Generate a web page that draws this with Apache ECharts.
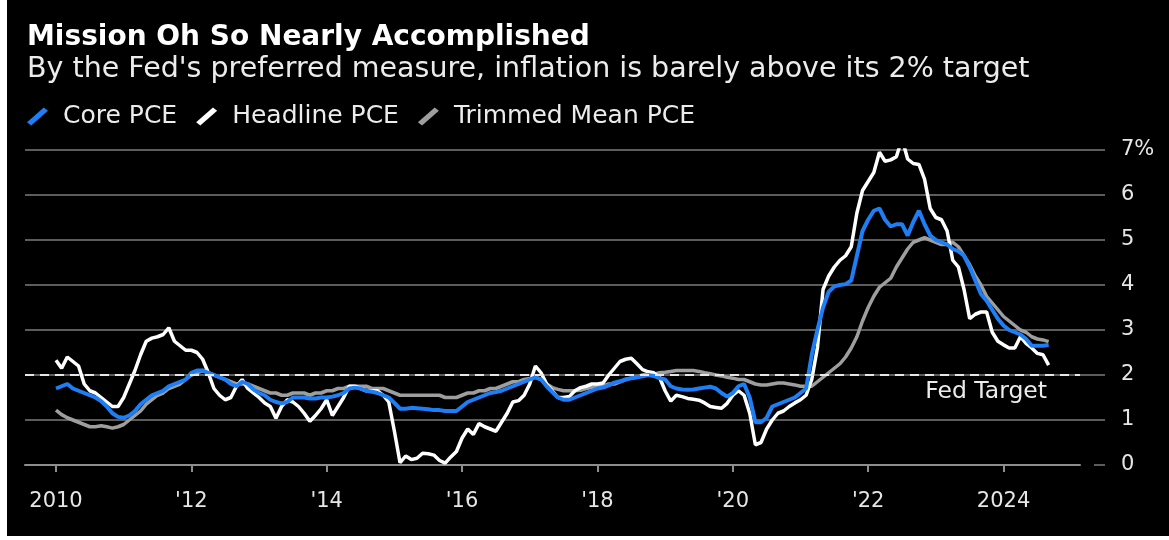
<!DOCTYPE html>
<html>
<head>
<meta charset="utf-8">
<script src="https://cdn.jsdelivr.net/npm/echarts@6/dist/echarts.min.js"></script>
<style>
  html, body { margin: 0; padding: 0; background: #fff; }
  #chart { position: absolute; left: 7px; top: 0; width: 1162px; height: 536px; background: #000; }
</style>
</head>
<body>
<div id="chart"></div>
<script>
// Monthly year-over-year changes, first reading Dec 2009, last Aug 2024.
const FIRST_MONTH = { year: 2009, month: 12 };

const corePce = [
  1.70,
  1.75, 1.80, 1.70, 1.65, 1.60, 1.55, 1.50, 1.42, 1.30, 1.15, 1.07, 1.05,   // 2010
  1.10, 1.20, 1.35, 1.45, 1.55, 1.60, 1.65, 1.75, 1.80, 1.85, 1.90, 2.05,   // 2011
  2.10, 2.10, 2.05, 2.00, 1.95, 1.90, 1.80, 1.75, 1.85, 1.80, 1.68, 1.60,   // 2012
  1.55, 1.45, 1.40, 1.37, 1.40, 1.50, 1.50, 1.50, 1.48, 1.48, 1.50, 1.50,   // 2013
  1.52, 1.55, 1.60, 1.70, 1.72, 1.70, 1.65, 1.63, 1.60, 1.55, 1.50, 1.38,   // 2014
  1.25, 1.25, 1.27, 1.26, 1.25, 1.24, 1.22, 1.22, 1.20, 1.20, 1.20, 1.30,   // 2015
  1.40, 1.45, 1.50, 1.55, 1.60, 1.62, 1.65, 1.70, 1.75, 1.80, 1.85, 1.90,   // 2016
  1.95, 1.90, 1.75, 1.62, 1.50, 1.45, 1.45, 1.50, 1.55, 1.60, 1.65, 1.70,   // 2017
  1.72, 1.77, 1.83, 1.86, 1.90, 1.93, 1.95, 1.97, 2.00, 1.98, 1.93, 1.90,   // 2018
  1.75, 1.70, 1.68, 1.67, 1.68, 1.70, 1.72, 1.74, 1.70, 1.60, 1.52, 1.60,   // 2019
  1.75, 1.80, 1.50, 0.95, 0.95, 1.05, 1.30, 1.35, 1.40, 1.45, 1.50, 1.60,   // 2020
  1.70, 2.45, 3.00, 3.50, 3.85, 3.97, 4.00, 4.02, 4.10, 4.65, 5.20, 5.45,   // 2021
  5.65, 5.70, 5.45, 5.30, 5.35, 5.35, 5.10, 5.40, 5.65, 5.35, 5.10, 5.00,   // 2022
  4.95, 4.90, 4.80, 4.75, 4.65, 4.40, 4.10, 3.80, 3.65, 3.45, 3.25, 3.10,   // 2023
  3.00, 2.95, 2.90, 2.80, 2.65, 2.65, 2.65, 2.67                            // 2024
];

const headlinePce = [
  2.33,
  2.15, 2.40, 2.30, 2.20, 1.80, 1.65, 1.60, 1.50, 1.40, 1.30, 1.30, 1.50,   // 2010
  1.80, 2.10, 2.45, 2.75, 2.82, 2.85, 2.90, 3.05, 2.75, 2.65, 2.55, 2.55,   // 2011
  2.50, 2.35, 2.05, 1.70, 1.55, 1.45, 1.50, 1.75, 1.90, 1.70, 1.60, 1.50,   // 2012
  1.38, 1.30, 1.04, 1.30, 1.45, 1.40, 1.30, 1.15, 0.97, 1.10, 1.25, 1.45,   // 2013
  1.10, 1.30, 1.50, 1.75, 1.75, 1.70, 1.65, 1.65, 1.65, 1.55, 1.40, 0.75,   // 2014
  0.05, 0.20, 0.12, 0.15, 0.26, 0.25, 0.22, 0.10, 0.04, 0.18, 0.30, 0.60,   // 2015
  0.80, 0.68, 0.92, 0.85, 0.80, 0.75, 0.95, 1.15, 1.40, 1.43, 1.55, 1.80,   // 2016
  2.20, 2.05, 1.80, 1.65, 1.50, 1.50, 1.52, 1.65, 1.72, 1.75, 1.80, 1.80,   // 2017
  1.82, 2.00, 2.15, 2.30, 2.35, 2.37, 2.25, 2.12, 2.07, 2.05, 1.95, 1.65,   // 2018
  1.42, 1.55, 1.52, 1.48, 1.46, 1.44, 1.38, 1.30, 1.28, 1.26, 1.37, 1.55,   // 2019
  1.65, 1.55, 1.15, 0.45, 0.50, 0.80, 1.00, 1.15, 1.20, 1.30, 1.38, 1.45,   // 2020
  1.55, 1.90, 2.60, 3.90, 4.20, 4.40, 4.55, 4.65, 4.85, 5.60, 6.10, 6.30,   // 2021
  6.50, 6.95, 6.75, 6.78, 6.85, 7.25, 6.80, 6.70, 6.68, 6.35, 5.70, 5.50,   // 2022
  5.45, 5.20, 4.55, 4.40, 3.90, 3.25, 3.35, 3.40, 3.40, 2.95, 2.75, 2.67,   // 2023
  2.60, 2.60, 2.85, 2.70, 2.60, 2.48, 2.45, 2.22                            // 2024
];

const trimmedMeanPce = [
  1.22,
  1.12, 1.05, 1.00, 0.95, 0.90, 0.85, 0.85, 0.87, 0.85, 0.82, 0.85, 0.90,   // 2010
  1.00, 1.10, 1.20, 1.35, 1.45, 1.55, 1.60, 1.70, 1.75, 1.80, 1.90, 2.00,   // 2011
  2.05, 2.10, 2.05, 2.00, 1.95, 1.90, 1.85, 1.80, 1.80, 1.80, 1.75, 1.70,   // 2012
  1.65, 1.60, 1.60, 1.55, 1.55, 1.60, 1.60, 1.60, 1.55, 1.60, 1.60, 1.65,   // 2013
  1.65, 1.70, 1.70, 1.75, 1.75, 1.75, 1.75, 1.70, 1.70, 1.70, 1.65, 1.60,   // 2014
  1.55, 1.55, 1.55, 1.55, 1.55, 1.55, 1.55, 1.55, 1.50, 1.50, 1.50, 1.55,   // 2015
  1.60, 1.60, 1.65, 1.65, 1.70, 1.70, 1.75, 1.80, 1.85, 1.85, 1.90, 1.92,   // 2016
  1.95, 1.90, 1.80, 1.72, 1.68, 1.65, 1.65, 1.65, 1.66, 1.70, 1.72, 1.75,   // 2017
  1.75, 1.80, 1.80, 1.85, 1.90, 1.93, 1.95, 2.00, 2.02, 2.02, 2.05, 2.06,   // 2018
  2.08, 2.10, 2.10, 2.10, 2.10, 2.08, 2.05, 2.03, 2.00, 1.98, 1.95, 1.93,   // 2019
  1.90, 1.90, 1.85, 1.80, 1.78, 1.78, 1.80, 1.82, 1.82, 1.80, 1.78, 1.75,   // 2020
  1.75, 1.75, 1.85, 1.95, 2.05, 2.15, 2.25, 2.40, 2.60, 2.85, 3.20, 3.50,   // 2021
  3.75, 3.95, 4.05, 4.15, 4.40, 4.60, 4.80, 4.95, 5.00, 5.05, 5.00, 4.95,   // 2022
  4.90, 4.90, 4.95, 4.85, 4.65, 4.45, 4.20, 4.00, 3.75, 3.60, 3.45, 3.30,   // 2023
  3.20, 3.10, 3.00, 2.95, 2.85, 2.80, 2.78, 2.74                            // 2024
];

const tickYears = [2010, 2012, 2014, 2016, 2018, 2020, 2022, 2024];
const tickLabels = ['2010', "'12", "'14", "'16", "'18", "'20", "'22", '2024'];
const yTickLabels = ['0', '1', '2', '3', '4', '5', '6', '7%'];
const FED_TARGET = 2;

const FONT = '"DejaVu Sans", "Liberation Sans", sans-serif';

// Each reading sits at the end of its month on a decimal-year scale.
function toPoints(values) {
  return values.map((v, i) => [FIRST_MONTH.year + (FIRST_MONTH.month + i) / 12, v]);
}

const chart = echarts.init(document.getElementById('chart'), null, { renderer: 'canvas' });

chart.setOption({
  backgroundColor: '#000',
  animation: false,
  title: [
    {
      text: 'Mission Oh So Nearly Accomplished',
      left: 20, top: 24, padding: 0,
      textStyle: { color: '#ffffff', fontFamily: FONT, fontWeight: 'bold', fontSize: 28 }
    },
    {
      text: "By the Fed's preferred measure, inflation is barely above its 2% target",
      left: 20, top: 55, padding: 0,
      textStyle: { color: '#ececec', fontFamily: FONT, fontWeight: 'normal', fontSize: 28.5 }
    }
  ],
  legend: {
    left: 20, top: 104, padding: 0,
    itemWidth: 21, itemHeight: 20, itemGap: 19,
    icon: 'path://M0,14 L16,0 L20,3 L4,17 Z',
    data: ['Core PCE', 'Headline PCE', 'Trimmed Mean PCE'],
    textStyle: { color: '#ececec', fontFamily: FONT, fontSize: 25, padding: [0, 0, 0, 10] },
    selectedMode: false
  },
  grid: [
    // gridlines and the right-hand value scale
    { left: 18, right: 64, top: 150, bottom: 71 },
    // plotting area with the time axis
    { left: 18, right: 89, top: 150, bottom: 71 }
  ],
  xAxis: [
    { gridIndex: 0, type: 'value', min: 2009.542, max: 2025.5, show: false },
    {
      gridIndex: 1, type: 'value', min: 2009.542, max: 2025.13,
      axisLine: { show: true, lineStyle: { color: '#8e8e8e', width: 2 } },
      axisTick: { show: true, customValues: tickYears, length: 7, lineStyle: { color: '#8e8e8e', width: 2 } },
      axisLabel: {
        show: true, customValues: tickYears, margin: 26,
        color: '#e6e6e6', fontFamily: FONT, fontSize: 21,
        formatter: v => tickLabels[tickYears.indexOf(Math.round(v))]
      },
      splitLine: { show: false }
    }
  ],
  yAxis: [
    {
      gridIndex: 0, type: 'value', min: 0, max: 7, interval: 1, position: 'right',
      axisLine: { show: false },
      axisTick: { show: true, inside: true, length: 11, lineStyle: { color: '#5c5c5c', width: 2 } },
      axisLabel: {
        margin: 16, color: '#e6e6e6', fontFamily: FONT, fontSize: 21,
        formatter: v => yTickLabels[v]
      },
      splitLine: {
        show: true,
        lineStyle: { color: ['rgba(0,0,0,0)', '#5c5c5c', '#5c5c5c', '#5c5c5c', '#5c5c5c', '#5c5c5c', '#5c5c5c', '#5c5c5c'], width: 2 }
      }
    },
    { gridIndex: 1, type: 'value', min: 0, max: 7, show: false }
  ],
  series: [
    {
      name: 'Trimmed Mean PCE', type: 'line', xAxisIndex: 1, yAxisIndex: 1,
      data: toPoints(trimmedMeanPce), showSymbol: false, symbol: 'none',
      color: '#9e9e9e', lineStyle: { color: '#9e9e9e', width: 3.5 },
      markLine: {
        silent: true, symbol: ['none', 'none'],
        data: [{ yAxis: FED_TARGET }],
        lineStyle: { color: '#e6e6e6', type: [9, 6], width: 2 },
        label: {
          show: true, position: 'insideEndBottom', formatter: 'Fed Target',
          distance: [33, 5],
          color: '#ececec', fontFamily: FONT, fontSize: 23.5
        }
      }
    },
    {
      name: 'Headline PCE', type: 'line', xAxisIndex: 1, yAxisIndex: 1,
      data: toPoints(headlinePce), showSymbol: false, symbol: 'none',
      color: '#ffffff', lineStyle: { color: '#ffffff', width: 3.5 }
    },
    {
      name: 'Core PCE', type: 'line', xAxisIndex: 1, yAxisIndex: 1,
      data: toPoints(corePce), showSymbol: false, symbol: 'none',
      color: '#1e7ef5', lineStyle: { color: '#1e7ef5', width: 4 }
    }
  ]
});
</script>
</body>
</html>
